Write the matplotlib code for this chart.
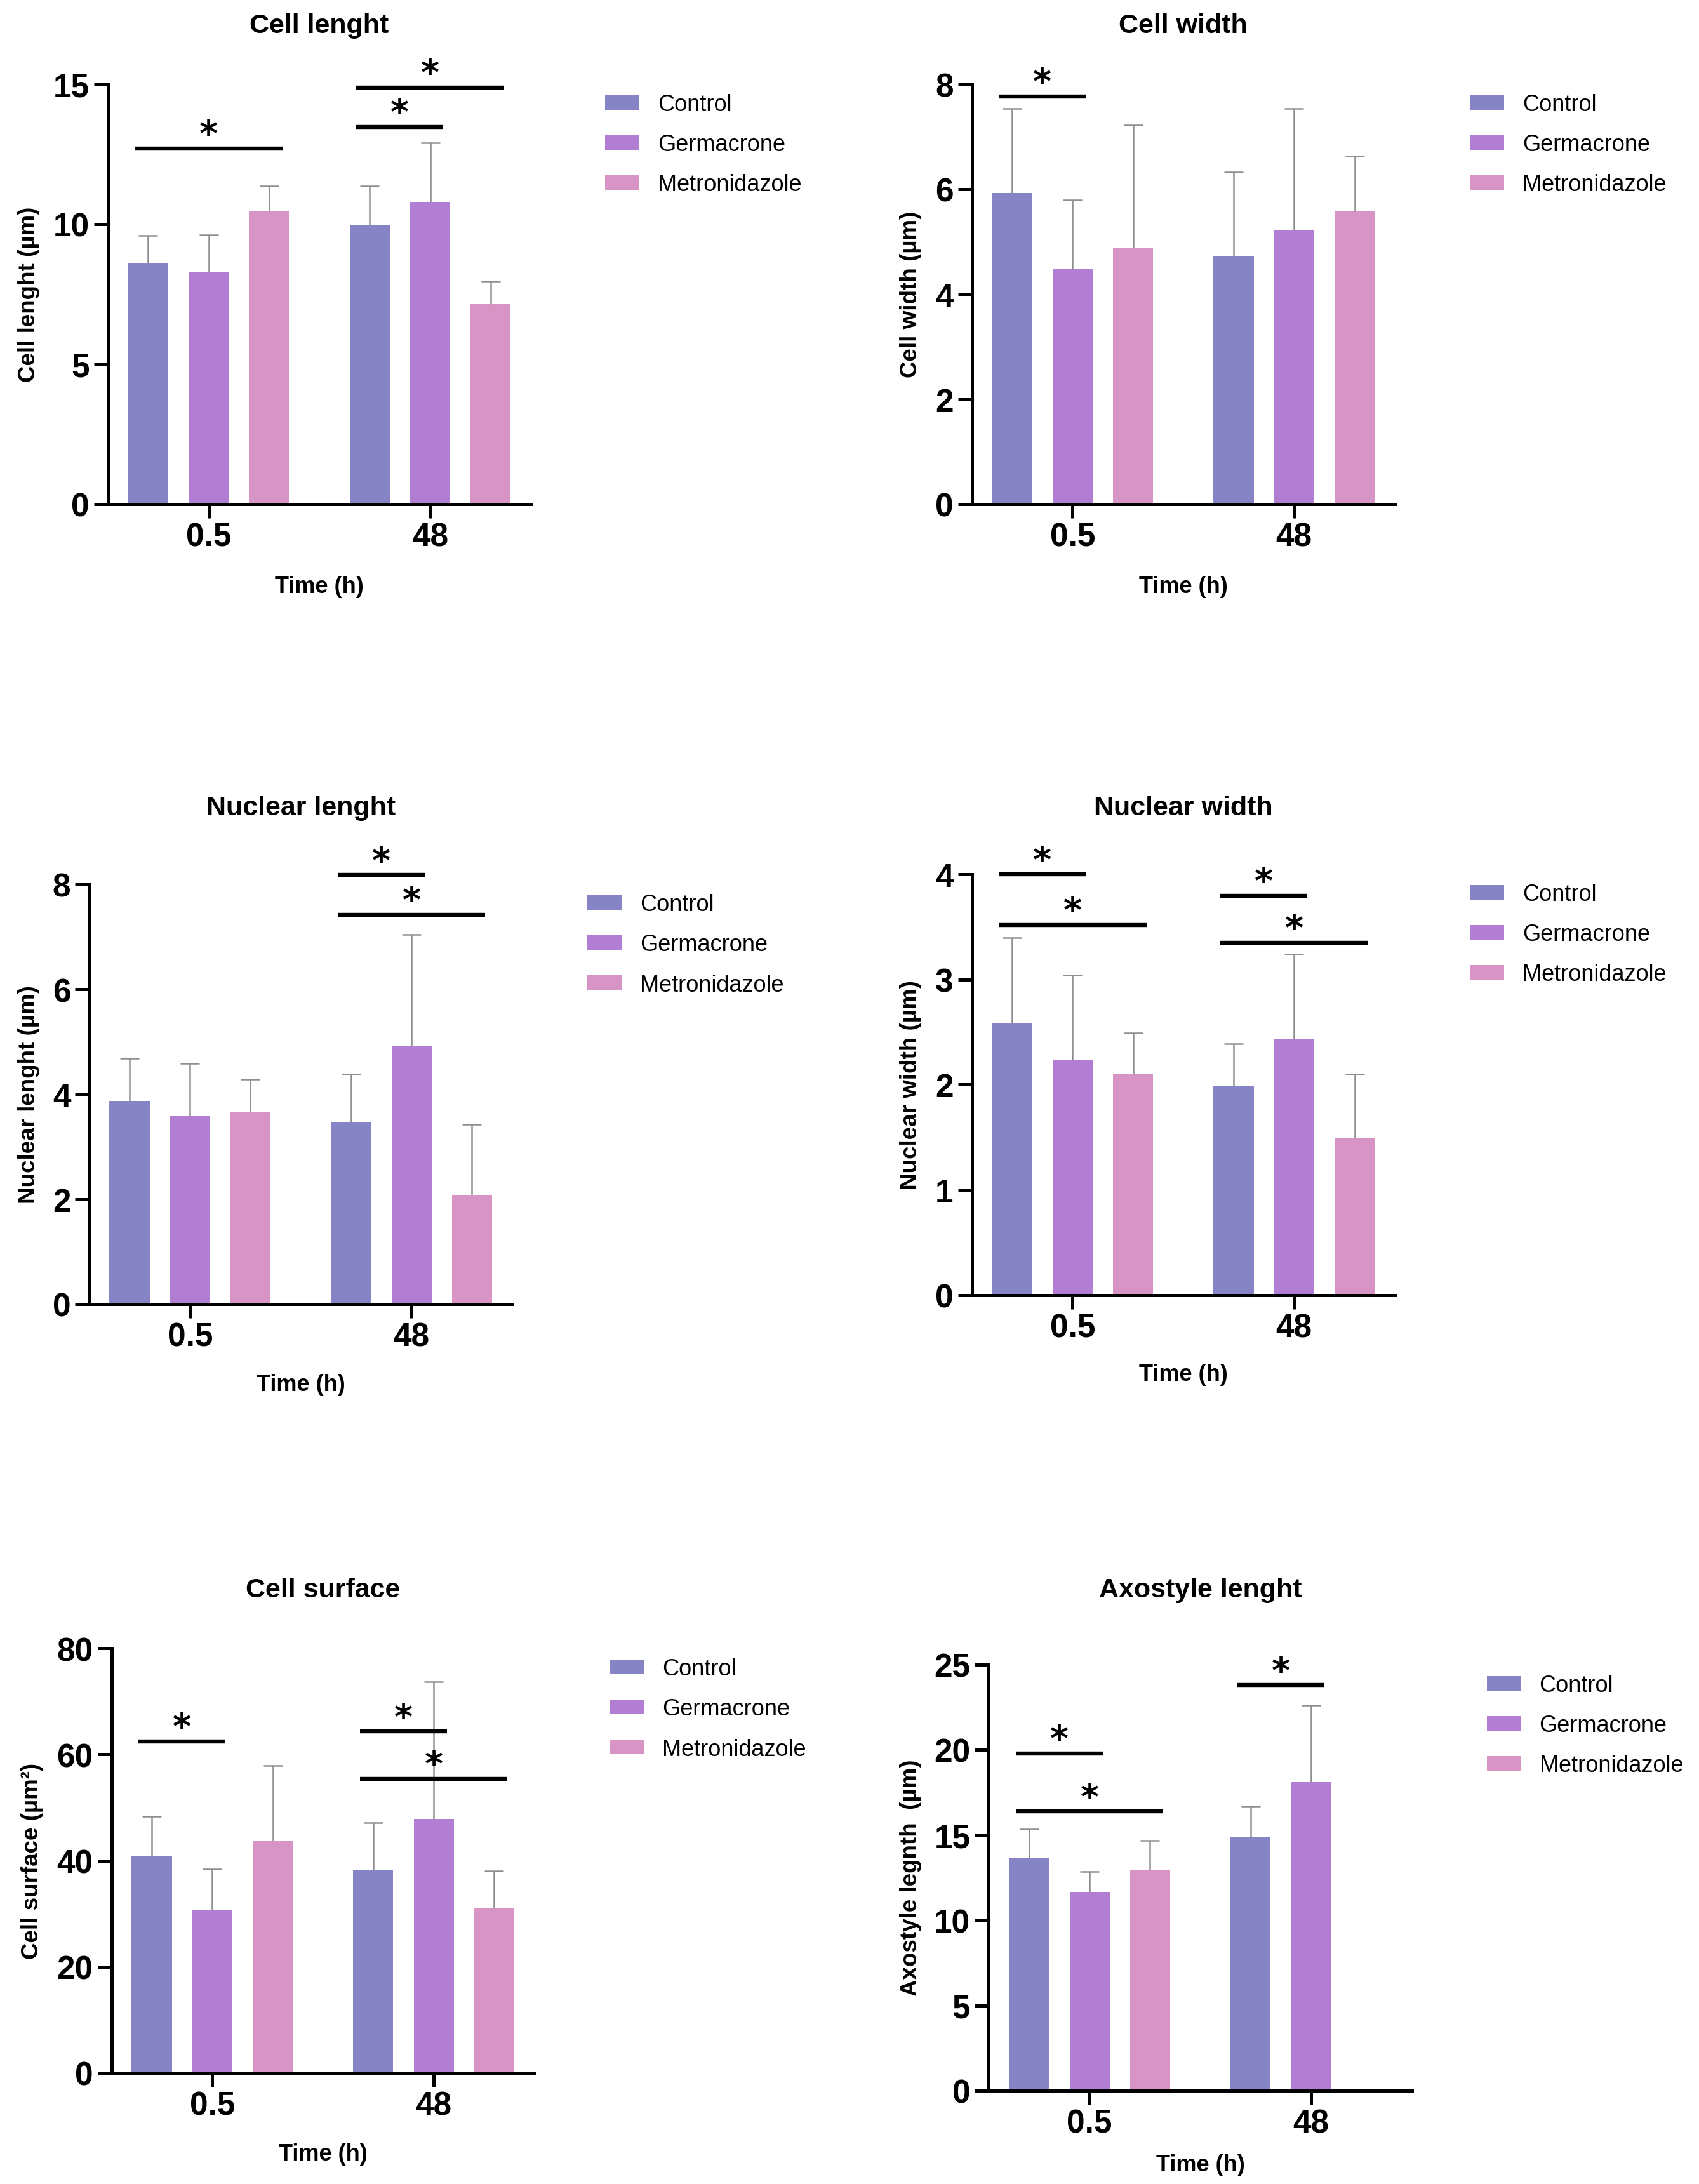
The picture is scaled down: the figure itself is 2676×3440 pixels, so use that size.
import numpy as np
import matplotlib
matplotlib.use('Agg')
import matplotlib.pyplot as plt

plt.rcParams['font.family'] = ['Liberation Sans', 'DejaVu Sans']
plt.rcParams['font.weight'] = 'bold'

groups = ['0.5', '48']
series = ['Control', 'Germacrone', 'Metronidazole']
colors = ['#8784C5', '#B27ED3', '#D994C6']

# medias y desviacion (fila = tiempo, columna = tratamiento)
cell_len = [[8.6, 8.3, 10.47], [9.95, 10.8, 7.15]]
cell_len_sd = [[1.0, 1.32, 0.9], [1.4, 2.1, 0.8]]
cell_wid = [[5.93, 4.48, 4.88], [4.73, 5.22, 5.58]]
cell_wid_sd = [[1.6, 1.31, 2.34], [1.6, 2.31, 1.05]]
nuc_len = [[3.87, 3.58, 3.67], [3.47, 4.93, 2.08]]
nuc_len_sd = [[0.81, 1.01, 0.61], [0.91, 2.11, 1.35]]
nuc_wid = [[2.58, 2.24, 2.1], [1.99, 2.44, 1.49]]
nuc_wid_sd = [[0.82, 0.8, 0.39], [0.4, 0.8, 0.61]]
cell_surf = [[40.8, 30.7, 43.8], [38.1, 47.9, 31.0]]
cell_surf_sd = [[7.5, 7.7, 14.1], [9.0, 25.8, 7.0]]
axo_len = [[13.66, 11.65, 12.95], [14.84, 18.11, np.nan]]
axo_len_sd = [[1.68, 1.21, 1.73], [1.83, 4.48, np.nan]]

# comparaciones significativas: (tiempo, grupo i, grupo j, altura)
cell_len_sig = [(0, 0, 2, 12.7), (1, 0, 1, 13.47), (1, 0, 2, 14.88)]
cell_wid_sig = [(0, 0, 1, 7.77)]
nuc_len_sig = [(1, 0, 1, 8.18), (1, 0, 2, 7.42)]
nuc_wid_sig = [(0, 0, 1, 4.0), (0, 0, 2, 3.52), (1, 0, 1, 3.8), (1, 0, 2, 3.35)]
cell_surf_sig = [(0, 0, 1, 62.5), (1, 0, 1, 64.3), (1, 0, 2, 55.4)]
axo_len_sig = [(0, 0, 1, 19.79), (0, 0, 2, 16.38), (1, 0, 1, 23.79)]

fig = plt.figure(figsize=(26.76, 34.41), dpi=100)

offs = np.array([-0.273, 0.0, 0.273])
bw = 0.181


def panel(rect, title, title_y, ylabel, ylab_x, xlab_y, mean, sd, ymax, step, sig, leg):
    ax = fig.add_axes(rect)
    mean = np.array(mean, float)
    sd = np.array(sd, float)
    x = np.arange(len(groups))
    handles = []
    for k in range(len(series)):
        b = ax.bar(x + offs[k], mean[:, k], width=bw, color=colors[k], label=series[k], zorder=2)
        handles.append(b)
        eb = ax.errorbar(x + offs[k], mean[:, k], yerr=[np.zeros(len(groups)), sd[:, k]], fmt='none',
                         ecolor='#8e8e8e', elinewidth=1.8, capsize=11, capthick=1.8, zorder=3)
        eb[1][0].set_visible(False)  # sin tapa inferior

    for g, i, j, yv in sig:
        x0 = g + offs[i] - 0.06
        x1 = g + offs[j] + 0.06
        ax.plot([x0, x1], [yv, yv], color='black', lw=4.6, solid_capstyle='butt', clip_on=False, zorder=4)
        ax.annotate('*', ((x0 + x1) / 2, yv), xytext=(0, 4), textcoords='offset points',
                    ha='center', va='baseline', fontsize=40, fontweight='bold',
                    family='DejaVu Sans', zorder=4, annotation_clip=False)

    ax.set_xlim(-0.455, 1.455)
    ax.set_ylim(0, ymax)
    ax.set_yticks(np.arange(0, ymax + step / 2, step))
    ax.set_xticks(x)
    ax.set_xticklabels(groups)
    ax.spines['top'].set_visible(False)
    ax.spines['right'].set_visible(False)
    ax.spines['left'].set_linewidth(3.6)
    ax.spines['bottom'].set_linewidth(3.6)
    ax.tick_params(axis='y', length=16, width=3.6, labelsize=37, pad=5)
    ax.tick_params(axis='x', length=16, width=3.6, labelsize=37, pad=4)

    l, b0, w, h = rect
    ax.set_ylabel(ylabel, fontsize=26.5, fontweight='bold')
    ax.yaxis.set_label_coords((ylab_x + 0.0065 - l) / w, 0.5)
    ax.set_xlabel('Time (h)', fontsize=26, fontweight='bold')
    ax.xaxis.set_label_coords(0.5, (xlab_y + 0.004 - b0) / h)
    fig.text(l + w / 2, title_y - 0.001, title, ha='center', va='center', fontsize=31, fontweight='bold')

    fig.legend(handles, series, loc='center left', bbox_to_anchor=leg, frameon=False,
               prop={'size': 26, 'weight': 'normal'}, handlelength=1.5, handleheight=0.6,
               handletextpad=0.8, labelspacing=0.78, borderpad=0, borderaxespad=0)
    return ax


panel([0.0635, 0.769, 0.249, 0.1922], 'Cell lenght', 0.989, 'Cell lenght (µm)', 0.017, 0.7323,
      cell_len, cell_len_sd, 15, 5, cell_len_sig, (0.356, 0.9335))
panel([0.572, 0.769, 0.249, 0.1922], 'Cell width', 0.989, 'Cell width (µm)', 0.536, 0.7323,
      cell_wid, cell_wid_sd, 8, 2, cell_wid_sig, (0.865, 0.9335))
panel([0.0525, 0.4028, 0.249, 0.1921], 'Nuclear lenght', 0.631, 'Nuclear lenght (µm)', 0.017, 0.367,
      nuc_len, nuc_len_sd, 8, 2, nuc_len_sig, (0.3457, 0.5673))
panel([0.572, 0.407, 0.249, 0.1924], 'Nuclear width', 0.631, 'Nuclear width (µm)', 0.536, 0.3717,
      nuc_wid, nuc_wid_sd, 4, 1, nuc_wid_sig, (0.865, 0.572))
panel([0.0656, 0.0509, 0.249, 0.1943], 'Cell surface', 0.273, 'Cell surface (µm²)', 0.019, 0.0148,
      cell_surf, cell_surf_sd, 80, 20, cell_surf_sig, (0.3587, 0.2174))
panel([0.582, 0.0428, 0.249, 0.195], 'Axostyle lenght', 0.273, 'Axostyle legnth  (µm)', 0.536, 0.0100,
      axo_len, axo_len_sd, 25, 5, axo_len_sig, (0.875, 0.2099))

fig.savefig('out.png', dpi=100, facecolor='white')
